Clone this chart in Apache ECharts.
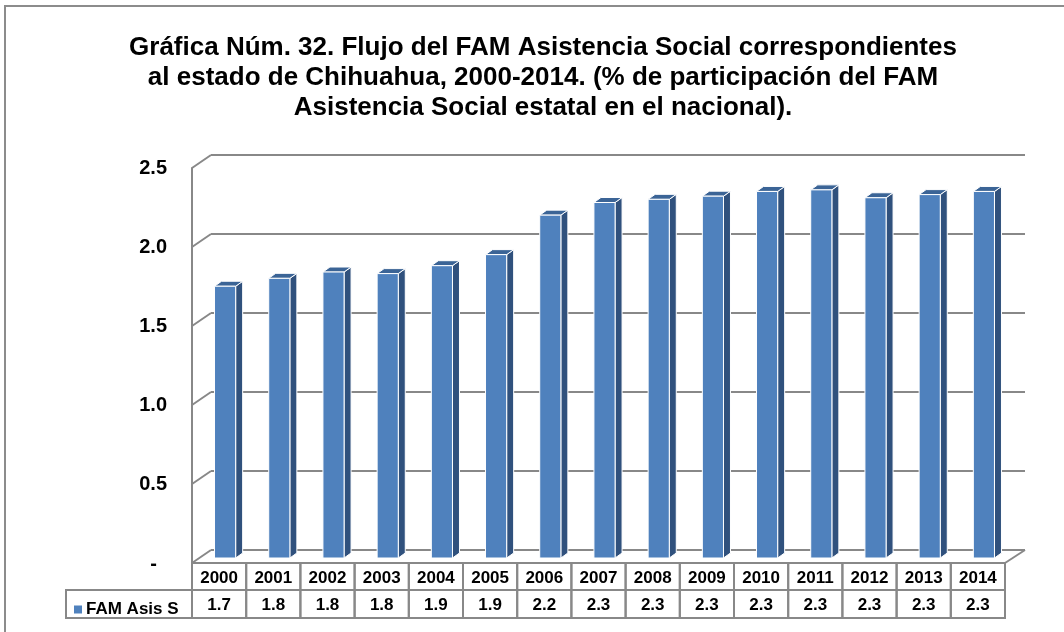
<!DOCTYPE html>
<html>
<head>
<meta charset="utf-8">
<script src="https://cdn.jsdelivr.net/npm/echarts@6/dist/echarts.min.js"></script>
<style>html,body{margin:0;padding:0;background:#fff;}#c{width:1064px;height:632px;}</style>
</head>
<body>
<div id="c"></div>
<script>
const titleText = 'Gráfica Núm. 32. Flujo del FAM Asistencia Social correspondientes\nal estado de Chihuahua, 2000-2014. (% de participación del FAM\nAsistencia Social estatal en el nacional).';
const seriesName = 'FAM Asis S';
const years = ['2000','2001','2002','2003','2004','2005','2006','2007','2008','2009','2010','2011','2012','2013','2014'];
const values = [1.72, 1.77, 1.81, 1.80, 1.85, 1.92, 2.17, 2.25, 2.27, 2.29, 2.32, 2.33, 2.28, 2.30, 2.32];
const yTicks = [0, 0.5, 1.0, 1.5, 2.0, 2.5];

const GRID_COLOR = '#888888';
const FONT = 'Liberation Sans, Arial, sans-serif';
const DX = 19, DY = 13;

const chart = echarts.init(document.getElementById('c'), null, {renderer: 'canvas'});

const barData = values.map((v, i) => [i, v]);
const tickData = yTicks.map(v => [0, v]);

const option = {
  backgroundColor: '#fff',
  animation: false,
  title: {
    text: titleText,
    left: 538, top: 28, textAlign: 'center',
    textStyle: {fontFamily: FONT, fontWeight: 'bold', fontSize: 26, lineHeight: 30, color: '#000'}
  },
  legend: {
    show: true, left: 69, top: 596, itemWidth: 8, itemHeight: 8, icon: 'rect', itemGap: 5,
    data: [seriesName],
    textStyle: {fontFamily: FONT, fontWeight: 'bold', fontSize: 17, color: '#000', padding: [1,0,0,-1]}
  },
  graphic: [{
    type: 'rect', silent: true, z: -10,
    shape: {x: 5, y: 6, width: 1200, height: 800},
    style: {fill: 'none', stroke: '#8c8c8c', lineWidth: 2}
  }],
  grid: [
    {left: 192 + DX, top: 168 - DY, width: 814, height: 395},   // back wall
    {left: 192, top: 168, width: 813, height: 395},             // front plane
    {left: 198, top: 163, width: 813, height: 395}              // bars plane
  ],
  xAxis: [0,1,2].map(g => ({
    gridIndex: g, type: 'category', data: years,
    axisLine: {show: false}, axisTick: {show: false}, axisLabel: {show: false}, splitLine: {show: false}
  })),
  yAxis: [
    {gridIndex: 0, type: 'value', min: 0, max: 2.5, interval: 0.5,
     axisLine: {show: false}, axisTick: {show: false}, axisLabel: {show: false},
     splitLine: {show: true, lineStyle: {color: GRID_COLOR, width: 2}}},
    {gridIndex: 1, type: 'value', min: 0, max: 2.5, interval: 0.5,
     axisLine: {show: true, lineStyle: {color: GRID_COLOR, width: 2}}, axisTick: {show: false},
     splitLine: {show: false},
     axisLabel: {show: true, margin: 25, fontFamily: FONT, fontWeight: 'bold', fontSize: 20, color: '#000',
       formatter: v => v === 0 ? '{d|-}' : v.toFixed(1),
       rich: {d: {fontFamily: FONT, fontWeight: 'bold', fontSize: 20, color: '#000', padding: [3, 10, 0, 0]}}}},
    {gridIndex: 2, type: 'value', min: 0, max: 2.5, interval: 0.5,
     axisLine: {show: false}, axisTick: {show: false}, axisLabel: {show: false}, splitLine: {show: false}}
  ],
  series: [
    {
      type: 'custom', name: 'walls', xAxisIndex: 0, yAxisIndex: 0, z: 1, silent: true,
      data: tickData, encode: {x: 0, y: 1}, clip: false,
      renderItem: function (params, api) {
        const cs = params.coordSys;
        const v = api.value(1);
        const y = api.coord([0, v])[1];
        const children = [{
          type: 'line', shape: {x1: cs.x, y1: y, x2: cs.x - DX, y2: y + DY},
          style: {stroke: GRID_COLOR, lineWidth: 2}
        }];
        if (v === 0) {
          children.push({
            type: 'line', shape: {x1: cs.x + cs.width, y1: y, x2: cs.x + cs.width - DX - 1, y2: y + DY},
            style: {stroke: GRID_COLOR, lineWidth: 2}
          });
        }
        return {type: 'group', children: children};
      }
    },
    {
      type: 'custom', name: 'table', xAxisIndex: 1, yAxisIndex: 1, z: 3, silent: true,
      data: barData, encode: {x: 0, y: 1}, clip: false,
      renderItem: function (params, api) {
        const cs = params.coordSys;
        const i = api.value(0);
        const v = api.value(1);
        const c = api.coord([i, 0]);
        const w = api.size([1, 0])[0];
        const x0 = c[0] - w / 2;
        const y0 = cs.y + cs.height;
        const h1 = 27, h2 = 28;
        const st = {fill: 'none', stroke: GRID_COLOR, lineWidth: 2};
        const children = [
          {type: 'rect', shape: {x: x0, y: y0, width: w, height: h1}, style: st},
          {type: 'rect', shape: {x: x0, y: y0 + h1, width: w, height: h2}, style: st},
          {type: 'text', style: {x: c[0], y: y0 + h1 / 2 + 2, text: years[i], align: 'center', verticalAlign: 'middle',
            font: 'bold 17px ' + FONT, fill: '#000'}},
          {type: 'text', style: {x: c[0], y: y0 + h1 + h2 / 2 + 1, text: v.toFixed(1), align: 'center', verticalAlign: 'middle',
            font: 'bold 17px ' + FONT, fill: '#000'}}
        ];
        if (i === 0) {
          children.push({type: 'rect', shape: {x: x0 - 126, y: y0 + h1, width: 126, height: h2}, style: st});
        }
        return {type: 'group', children: children};
      }
    },
    {
      type: 'custom', name: seriesName, xAxisIndex: 2, yAxisIndex: 2, z: 5,
      itemStyle: {color: '#4f81bd'},
      data: barData, encode: {x: 0, y: 1}, clip: false,
      renderItem: function (params, api) {
        const i = api.value(0);
        const v = api.value(1);
        const top = api.coord([i, v]);
        const bot = api.coord([i, 0]);
        const w = api.size([1, 0])[0] * 0.39;
        const x1 = top[0] - w / 2, x2 = top[0] + w / 2;
        const dx = 7, dy = 5;
        const edge = {stroke: '#ffffff', lineWidth: 1};
        return {type: 'group', children: [
          {type: 'polygon', shape: {points: [[x2, top[1]], [x2 + dx, top[1] - dy], [x2 + dx, bot[1] - dy], [x2, bot[1]]]},
            style: Object.assign({fill: '#30517d'}, edge)},
          {type: 'polygon', shape: {points: [[x1, top[1]], [x1 + dx, top[1] - dy], [x2 + dx, top[1] - dy], [x2, top[1]]]},
            style: Object.assign({fill: '#3b6496'}, edge)},
          {type: 'rect', shape: {x: x1, y: top[1], width: w, height: bot[1] - top[1]},
            style: Object.assign({fill: '#4f81bd'}, edge)}
        ]};
      }
    }
  ]
};
chart.setOption(option);
</script>
</body>
</html>
